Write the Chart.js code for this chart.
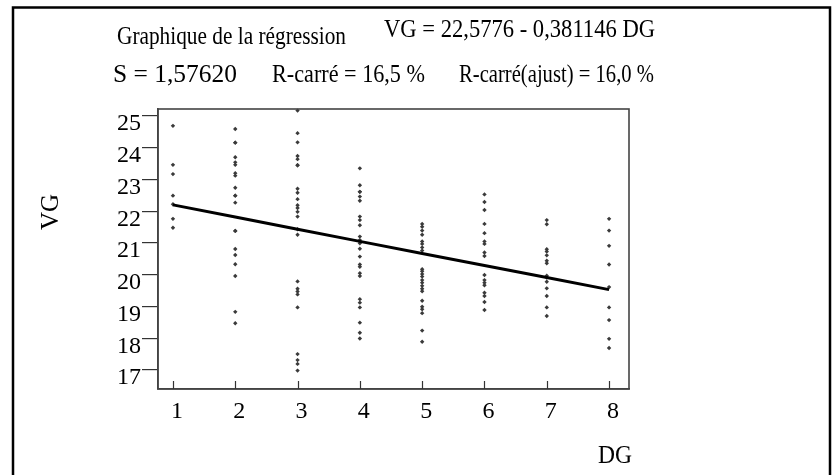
<!DOCTYPE html>
<html>
<head>
<meta charset="utf-8">
<script src="https://cdn.jsdelivr.net/npm/chart.js@4.4.1/dist/chart.umd.min.js"></script>
<style>
html,body{margin:0;padding:0;background:#fff;}
#wrap{position:relative;width:837px;height:475px;}
</style>
</head>
<body>
<div id="wrap"><canvas id="c"></canvas></div>
<script>
// ---- data ----
const dgLevels = [1, 2, 3, 4, 5, 6, 7, 8];
const vg1 = [24.69, 23.46, 23.17, 22.49, 22.22, 21.76, 21.48];
const vg2 = [24.59, 24.16, 24.16, 23.70, 23.54, 23.46, 23.20, 23.12, 22.74, 22.49, 22.49, 22.27, 21.38, 21.38, 20.81, 20.62, 20.33, 19.96, 18.83, 18.47];
const vg3 = [25.17, 24.46, 24.17, 23.74, 23.64, 23.45, 23.45, 22.71, 22.58, 22.38, 22.19, 22.10, 21.98, 21.83, 21.43, 21.26, 19.79, 19.56, 19.47, 19.38, 18.97, 17.50, 17.31, 17.19, 16.98];
const vg4 = [23.35, 22.82, 22.61, 22.61, 22.46, 22.33, 21.83, 21.72, 21.56, 21.20, 21.09, 20.99, 20.82, 20.57, 20.32, 20.25, 20.05, 19.96, 19.23, 19.12, 18.97, 18.49, 18.17, 17.99];
const vg5 = [21.60, 21.51, 21.39, 21.26, 21.05, 20.97, 20.86, 20.76, 20.17, 20.11, 20.02, 19.94, 19.83, 19.75, 19.65, 19.56, 19.48, 19.18, 18.99, 18.91, 18.79, 18.24, 17.89];
const vg6 = [22.53, 22.29, 22.04, 21.60, 21.31, 21.05, 20.97, 20.70, 20.59, 19.99, 19.83, 19.75, 19.67, 19.43, 19.33, 19.14, 18.89];
const vg7 = [21.72, 21.59, 20.80, 20.73, 20.61, 20.44, 20.36, 19.97, 19.91, 19.78, 19.57, 19.33, 18.97, 18.70];
const vg8 = [21.76, 21.39, 20.91, 20.32, 19.61, 18.97, 18.57, 17.98, 17.69];
const fittedVG = [22.20, 21.82, 21.43, 21.05, 20.67, 20.29, 19.91, 19.53];
const yTickLabels = ['17','18','19','20','21','22','23','24','25'];
const xTickLabels = ['1','2','3','4','5','6','7','8'];
const titleText = 'Graphique de la régression';
const equationText = 'VG = 22,5776 - 0,381146 DG';
const statS = 'S = 1,57620';
const statR2 = 'R-carré = 16,5 %';
const statR2adj = 'R-carré(ajust) = 16,0 %';
const xTitle = 'DG';
const yTitle = 'VG';

const columns = [vg1, vg2, vg3, vg4, vg5, vg6, vg7, vg8];
const scatterData = [];
columns.forEach((col, i) => col.forEach(v => scatterData.push({x: dgLevels[i], y: v})));
const lineData = dgLevels.map((d, i) => ({x: d, y: fittedVG[i]}));

const SERIF = '"Liberation Serif", "DejaVu Serif", serif';

function drawFitted(ctx, text, x, baseline, targetW, size) {
  ctx.save();
  ctx.font = size + 'px ' + SERIF;
  const w = ctx.measureText(text).width;
  const sx = targetW / w;
  ctx.translate(x, baseline);
  ctx.scale(sx, 1);
  ctx.textAlign = 'left';
  ctx.textBaseline = 'alphabetic';
  ctx.fillStyle = '#000';
  ctx.fillText(text, 0, 0);
  ctx.restore();
}

const decor = {
  id: 'decor',
  afterDatasetsDraw(chart) {
    const {ctx, chartArea: a, scales} = chart;
    ctx.save();
    // plot frame
    ctx.strokeStyle = '#444';
    ctx.lineWidth = 1.6;
    ctx.strokeRect(a.left, a.top, a.right - a.left, a.bottom - a.top);
    // inward x ticks
    ctx.lineWidth = 1.2;
    ctx.strokeStyle = '#333';
    scales.x.ticks.forEach(t => {
      const px = Math.round(scales.x.getPixelForValue(t.value)) + 0.5;
      ctx.beginPath();
      ctx.moveTo(px, a.bottom);
      ctx.lineTo(px, a.bottom - 8);
      ctx.stroke();
    });
    // outer frame
    ctx.strokeStyle = '#000';
    ctx.lineWidth = 2.5;
    ctx.strokeRect(13, 7.5, 817, 480);
    ctx.restore();
    // texts
    drawFitted(ctx, titleText, 117, 44, 229, 25);
    drawFitted(ctx, equationText, 384, 37, 271, 25);
    drawFitted(ctx, statS, 113, 82, 124, 25);
    drawFitted(ctx, statR2, 272, 82, 153, 25);
    drawFitted(ctx, statR2adj, 459, 82, 195, 25);
    // axis titles
    drawFitted(ctx, xTitle, 598, 463, 34, 25);
    ctx.save();
    ctx.translate(58, 230);
    ctx.rotate(-Math.PI / 2);
    ctx.font = '25px ' + SERIF;
    ctx.fillStyle = '#000';
    ctx.textAlign = 'left';
    ctx.fillText(yTitle, 0, 0);
    ctx.restore();
  }
};

new Chart(document.getElementById('c'), {
  type: 'scatter',
  data: {
    datasets: [
      {
        type: 'scatter',
        data: scatterData,
        pointStyle: 'rectRot',
        pointRadius: 2.2,
        pointBorderWidth: 0,
        backgroundColor: '#3a3a3a',
        borderColor: '#3a3a3a',
        clip: false,
        order: 2
      },
      {
        type: 'line',
        data: lineData,
        borderColor: '#000',
        borderWidth: 3,
        pointRadius: 0,
        tension: 0,
        fill: false,
        order: 1
      }
    ]
  },
  options: {
    responsive: true,
    maintainAspectRatio: false,
    animation: false,
    events: [],
    layout: {padding: {left: 0, top: 109, right: 208, bottom: 0}},
    plugins: {legend: {display: false}, tooltip: {enabled: false}, title: {display: false}},
    scales: {
      x: {
        type: 'linear',
        min: 0.76,
        max: 8.32,
        afterFit(scale) { scale.height = 86; },
        grid: {display: false, drawTicks: false, drawOnChartArea: false},
        border: {display: true, color: '#444', width: 1.6},
        ticks: {
          stepSize: 1,
          includeBounds: false,
          padding: 8,
          labelOffset: 4,
          color: '#000',
          font: {family: SERIF, size: 24},
          callback: (v) => {
            const i = dgLevels.indexOf(v);
            return i >= 0 ? xTickLabels[i] : '';
          }
        }
      },
      y: {
        type: 'linear',
        min: 16.4,
        max: 25.22,
        afterFit(scale) { scale.width = 158; },
        grid: {display: true, drawOnChartArea: false, drawTicks: true, tickLength: 16, color: '#333', lineWidth: 1.2},
        border: {display: true, color: '#444', width: 1.6},
        ticks: {
          stepSize: 1,
          includeBounds: false,
          padding: 1,
          labelOffset: 8,
          color: '#000',
          font: {family: SERIF, size: 24},
          callback: (v) => {
            const i = Math.round(v) - 17;
            return (Math.abs(v - Math.round(v)) < 1e-6 && i >= 0 && i < yTickLabels.length) ? yTickLabels[i] : '';
          }
        }
      }
    }
  },
  plugins: [decor]
});
</script>
</body>
</html>
